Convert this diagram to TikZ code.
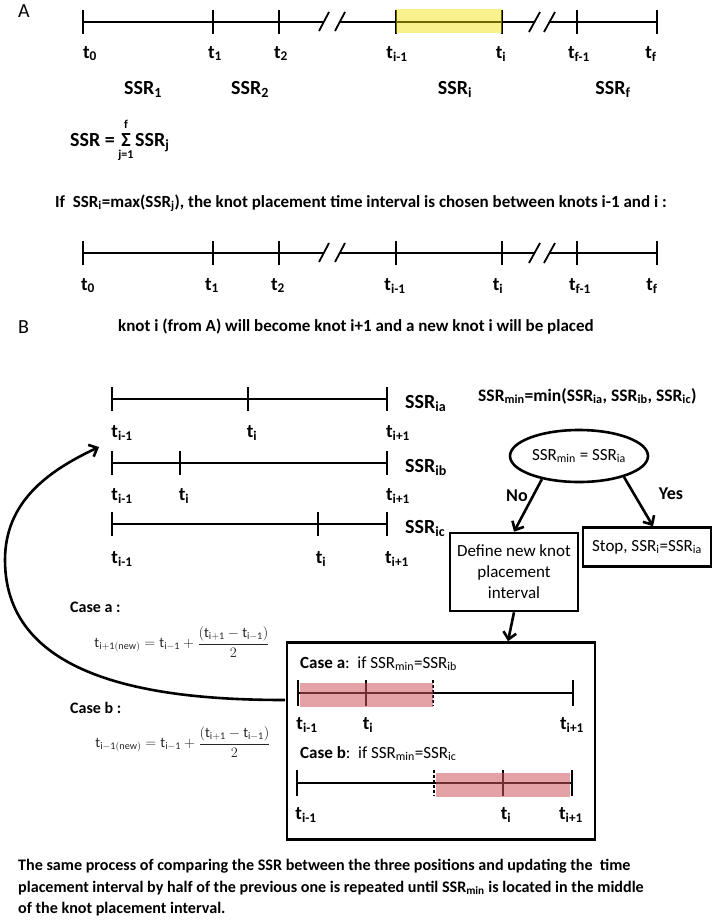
\documentclass[tikz,border=0pt]{standalone}
\usepackage{fontspec}
\setmainfont{Carlito}
\usetikzlibrary{arrows.meta, positioning, shapes.geometric, backgrounds, calc}
\newcommand{\tk}[1]{t\textsubscript{#1}}
\newcommand{\ssr}[1]{SSR\textsubscript{#1}}

\begin{document}
\begin{tikzpicture}[
    x=1pt, y=-1pt,
    font=\bfseries\fontsize{17}{21.5}\selectfont,
    axis/.style={line width=1.8pt},
    inaxis/.style={line width=1.4pt},
    cut/.style={line width=1.4pt, dash pattern=on 3pt off 2pt},
    tlabel/.style={font=\bfseries\fontsize{19}{21}\selectfont, inner sep=0pt, anchor=base},
    seglabel/.style={font=\bfseries\fontsize{20}{22}\selectfont, inner sep=0pt, anchor=base},
    sentence/.style={inner sep=0pt, anchor=base west},
    panel/.style={font=\mdseries\fontsize{20}{22}\selectfont, inner sep=0pt, anchor=base west},
    box/.style={rectangle, draw=black, line width=2.6pt, align=center, font=\mdseries\fontsize{17}{21}\selectfont, inner sep=2pt},
    arrow/.style={-{Straight Barb[length=7pt, width=13pt]}, line width=2.6pt},
    yellowhl/.style={fill={rgb,255:red,240;green,225;blue,0}, fill opacity=0.45},
    redhl/.style={fill={rgb,255:red,205;green,85;blue,95}, fill opacity=0.55},
    formula/.style={font=\mdseries\fontsize{14.5}{17}\selectfont, text=black!85, inner sep=0pt}
]
\useasboundingbox (0,0) rectangle (714,922);

\node[panel] (panel-a) at (18,17) {A};
\draw[axis] (83,22) -- (324,22) (340,22) -- (534,22) (550,22) -- (657,22);
\draw[axis] (319,31) -- (329,12) (335,31) -- (345,12);
\draw[axis] (529,32) -- (540,12) (544,32) -- (555,12);
\foreach \x in {83,213,279,396,502,577,657}
    \draw[axis] (\x,10) -- (\x,34);
\fill[yellowhl] (396,9) rectangle (502,33);

\node[tlabel] (a-t0) at (90,58) {\tk{0}};
\node[tlabel] (a-t1) at (215,58) {\tk{1}};
\node[tlabel] (a-t2) at (281,58) {\tk{2}};
\node[tlabel] (a-tim) at (397,58) {\tk{i-1}};
\node[tlabel] (a-ti) at (501,58) {\tk{i}};
\node[tlabel] (a-tfm) at (579,58) {\tk{f-1}};
\node[tlabel] (a-tf) at (651,58) {\tk{f}};

\node[seglabel] (ssr-1) at (143,94) {\ssr{1}};
\node[seglabel] (ssr-2) at (250,94) {\ssr{2}};
\node[seglabel] (ssr-i) at (455,94) {\ssr{i}};
\node[seglabel] (ssr-f) at (613,94) {\ssr{f}};

\node[seglabel] (sigma) at (126,146) {Σ};
\node[seglabel, anchor=base east] (sum-lhs) at (115,146) {SSR =};
\node[seglabel, anchor=base west] (sum-rhs) at (135,146) {\ssr{j}};
\node[font=\bfseries\fontsize{12}{13}\selectfont, inner sep=0pt, above=4pt of sigma] (sum-top) {f};
\node[font=\bfseries\fontsize{12}{13}\selectfont, inner sep=0pt, below=4pt of sigma] (sum-bot) {j=1};

\node[sentence] (rule) at (55,207) {If\ \ \ssr{i}=max(\ssr{j}), the knot placement time interval is chosen between knots i-1 and i :};

\draw[axis] (83,253) -- (324,253) (340,253) -- (534,253) (550,253) -- (657,253);
\draw[axis] (319,262) -- (329,243) (335,262) -- (345,243);
\draw[axis] (529,263) -- (540,243) (544,263) -- (555,243);
\foreach \x in {83,213,279,396,502,577,657}
    \draw[axis] (\x,241) -- (\x,265);

\node[tlabel] (b-t0) at (88,290) {\tk{0}};
\node[tlabel] (b-t1) at (212,290) {\tk{1}};
\node[tlabel] (b-t2) at (278,290) {\tk{2}};
\node[tlabel] (b-tim) at (395,290) {\tk{i-1}};
\node[tlabel] (b-ti) at (498,290) {\tk{i}};
\node[tlabel] (b-tfm) at (580,290) {\tk{f-1}};
\node[tlabel] (b-tf) at (652,290) {\tk{f}};

\node[panel] (panel-b) at (18,333) {B};
\node[sentence] (renumber) at (118,331) {knot i (from A) will become knot i+1 and a new knot i will be placed};

\draw[axis] (112,399) -- (387,399);
\foreach \x in {112,248,387}
    \draw[axis] (\x,387) -- (\x,411);
\node[tlabel] (ia-tim) at (122,437) {\tk{i-1}};
\node[tlabel] (ia-ti) at (252,437) {\tk{i}};
\node[tlabel] (ia-tip) at (398,437) {\tk{i+1}};
\node[seglabel, anchor=base west] (ssr-ia) at (405,408) {\ssr{ia}};

\draw[axis] (112,463) -- (387,463);
\foreach \x in {112,180,387}
    \draw[axis] (\x,451) -- (\x,475);
\node[tlabel] (ib-tim) at (122,500) {\tk{i-1}};
\node[tlabel] (ib-ti) at (184,500) {\tk{i}};
\node[tlabel] (ib-tip) at (398,500) {\tk{i+1}};
\node[seglabel, anchor=base west] (ssr-ib) at (405,472) {\ssr{ib}};

\draw[axis] (112,524) -- (387,524);
\foreach \x in {112,318,387}
    \draw[axis] (\x,512) -- (\x,536);
\node[tlabel] (ic-tim) at (122,563) {\tk{i-1}};
\node[tlabel] (ic-ti) at (321,563) {\tk{i}};
\node[tlabel] (ic-tip) at (397,563) {\tk{i+1}};
\node[seglabel, anchor=base west] (ssr-ic) at (405,533) {\ssr{ic}};

\node[sentence, font=\bfseries\fontsize{17.5}{21}\selectfont] (minrule) at (478,401) {\ssr{min}=min(\ssr{ia}, \ssr{ib}, \ssr{ic})};

\node[ellipse, draw, line width=2.6pt, minimum width=138, minimum height=52, inner sep=0pt, font=\mdseries\fontsize{17}{21}\selectfont] (cond) at (579,456) {\ssr{min} = \ssr{ia}};
\node[box, minimum width=128, minimum height=78] (define) at (514,572) {Define new knot\\placement\\interval};
\node[box, minimum width=128, minimum height=39] (stop) at (647,547) {Stop, \ssr{i}=\ssr{ia}};
\node[font=\bfseries\fontsize{18}{21}\selectfont, inner sep=0pt] (no) at (517,496) {No};
\node[font=\bfseries\fontsize{18}{21}\selectfont, inner sep=0pt] (yes) at (671,494) {Yes};

\draw[arrow] (cond.212) -- (define.north);
\draw[arrow] (cond.-25) -- ([xshift=6pt]stop.north);

\node[box, minimum width=308, minimum height=197] (casebox) at (441,741) {};
\draw[arrow] (define.south) -- ($(define.south |- casebox.north)+(-6,0)$);

\node[sentence, font=\fontsize{17}{20}\selectfont] (case-a) at (300,668) {\textbf{Case a}:\ \ \mdseries if \ssr{min}=\ssr{ib}};
\draw[inaxis] (298,693) -- (573,693);
\foreach \x in {298,366,573}
    \draw[inaxis] (\x,680) -- (\x,706);
\draw[cut] (433,680) -- (433,706);
\fill[redhl] (300,683) rectangle (433,707);
\node[tlabel] (ca-tim) at (307,729) {\tk{i-1}};
\node[tlabel] (ca-ti) at (368,729) {\tk{i}};
\node[tlabel] (ca-tip) at (572,729) {\tk{i+1}};

\node[sentence, font=\fontsize{17}{20}\selectfont] (case-b) at (300,758) {\textbf{Case b}:\ \ \mdseries if \ssr{min}=\ssr{ic}};
\draw[inaxis] (297,783) -- (572,783);
\foreach \x in {297,503,572}
    \draw[inaxis] (\x,770) -- (\x,796);
\draw[cut] (434,770) -- (434,796);
\fill[redhl] (436,773) rectangle (570,797);
\node[tlabel] (cb-tim) at (306,819) {\tk{i-1}};
\node[tlabel] (cb-ti) at (506,819) {\tk{i}};
\node[tlabel] (cb-tip) at (571,819) {\tk{i+1}};

\node[sentence, font=\bfseries\fontsize{16}{18}\selectfont] (left-a) at (70,612) {Case a :};
\node[formula] (eq-a) at (182,642) {$\displaystyle \mathrm{t_{i+1(new)}} = \mathrm{t_{i-1}} + \frac{(\mathrm{t_{i+1}} - \mathrm{t_{i-1}})}{2}$};
\node[sentence, font=\bfseries\fontsize{16}{18}\selectfont] (left-b) at (70,713) {Case b :};
\node[formula] (eq-b) at (183,742) {$\displaystyle \mathrm{t_{i-1(new)}} = \mathrm{t_{i-1}} + \frac{(\mathrm{t_{i+1}} - \mathrm{t_{i-1}})}{2}$};

\coordinate (loop-start) at (285,700);
\coordinate (loop-turn) at (5,560);
\coordinate (loop-end) at (99,447);
\draw[arrow] (loop-start) to[out=180, in=-90] (loop-turn) to[out=90, in=205] (loop-end);

\node[inner sep=0pt, anchor=north west, align=left, font=\bfseries\fontsize{16.1}{21.5}\selectfont] (summary) at (18,859) {The same process of comparing the SSR between the three positions and updating the\ \ time\\placement interval by half of the previous one is repeated until \ssr{min} is located in the middle\\of the knot placement interval.};

\end{tikzpicture}
\end{document}
